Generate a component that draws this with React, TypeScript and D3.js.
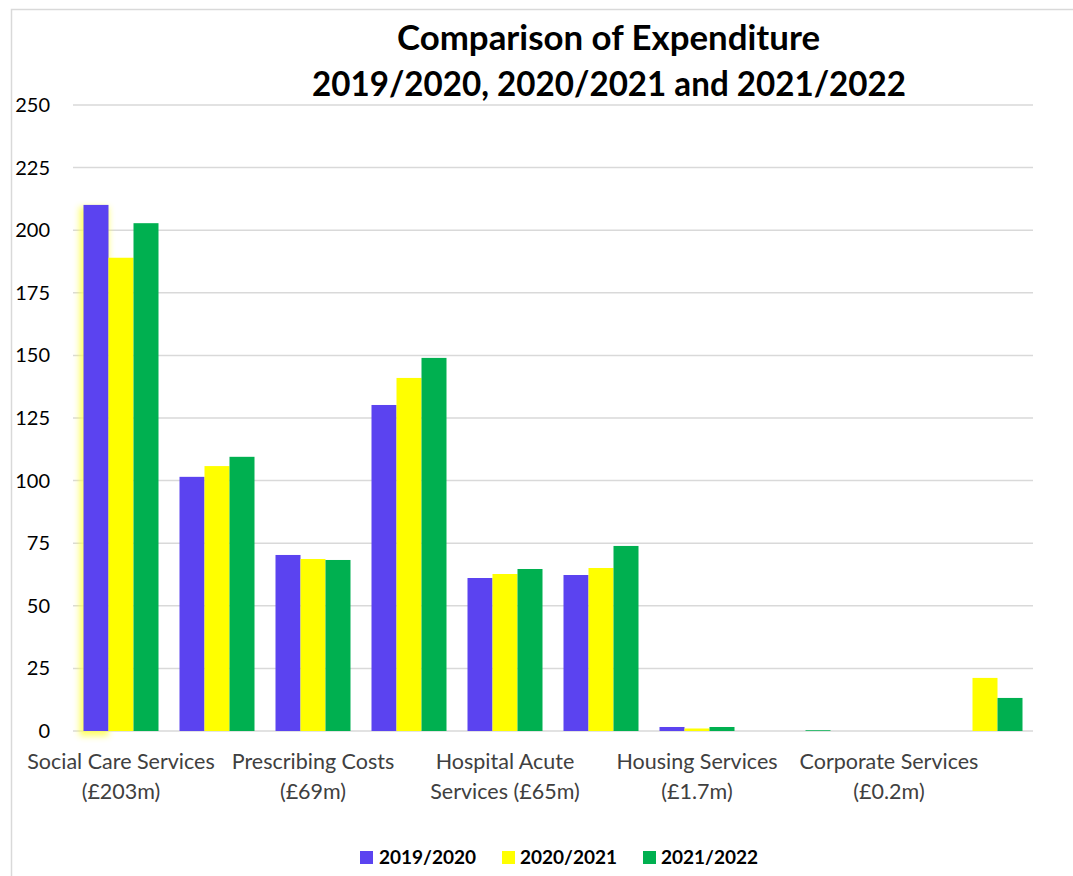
import React from "react";
import * as d3 from "d3";

const categories = [
  "Social Care Services (£203m)",
  "Category 2",
  "Prescribing Costs (£69m)",
  "Category 4",
  "Hospital Acute Services (£65m)",
  "Category 6",
  "Housing Services (£1.7m)",
  "Category 8",
  "Corporate Services (£0.2m)",
  "Category 10",
];
// Visible axis labels (every other category), split in two lines
const labelLines: string[][] = [
  ["Social Care Services", "(£203m)"],
  [],
  ["Prescribing Costs", "(£69m)"],
  [],
  ["Hospital Acute", "Services (£65m)"],
  [],
  ["Housing Services", "(£1.7m)"],
  [],
  ["Corporate Services", "(£0.2m)"],
  [],
];
const series = ["2019/2020", "2020/2021", "2021/2022"];
const values2019 = [210.1, 101.5, 70.3, 130.2, 61.1, 62.3, 1.6, 0, 0, 0];
const values2020 = [189.0, 105.8, 68.7, 141.0, 62.7, 65.1, 1.0, 0, 0, 21.2];
const values2021 = [202.8, 109.5, 68.3, 149.0, 64.7, 73.9, 1.6, 0.3, 0, 13.2];
const yTicks = [0, 25, 50, 75, 100, 125, 150, 175, 200, 225, 250];
const colors = ["#5B43F0", "#FFFF00", "#00B050"];

const W = 1073;
const H = 876;
const plot = { left: 73, right: 1033, top: 105, bottom: 731 };
const font = "Lato, 'Open Sans', sans-serif";

export default function App() {
  const allSeries = [values2019, values2020, values2021];
  const x = d3
    .scaleBand<string>()
    .domain(categories)
    .range([plot.left, plot.right])
    .paddingInner(0.21875)
    .paddingOuter(0.109375);
  const inner = d3
    .scaleBand<string>()
    .domain(series)
    .range([0, x.bandwidth()]);
  const y = d3.scaleLinear().domain([0, 250]).range([plot.bottom, plot.top]);

  const legendItems = [
    { name: series[0], sq: 360, tx: 379 },
    { name: series[1], sq: 502, tx: 520 },
    { name: series[2], sq: 643, tx: 661 },
  ];

  return (
    <svg
      width={W}
      height={H}
      style={{ position: "fixed", left: 0, top: 0, background: "#fff" }}
      fontFamily={font}
    >
      <defs>
        <filter id="glow" x="-50%" y="-10%" width="200%" height="120%">
          <feGaussianBlur stdDeviation="3" />
        </filter>
      </defs>
      {/* chart border */}
      <path d={`M11.5,${H} V9.5 H${W}`} fill="none" stroke="#d9d9d9" strokeWidth={1.5} />

      {/* title */}
      <text
        x={608.5}
        y={50}
        textAnchor="middle"
        fontSize={34}
        fontWeight={700}
        fill="#000"
        textLength={423}
        lengthAdjust="spacingAndGlyphs"
      >
        Comparison of Expenditure
      </text>
      <text
        x={609}
        y={96}
        textAnchor="middle"
        fontSize={34}
        fontWeight={700}
        fill="#000"
        textLength={594}
        lengthAdjust="spacingAndGlyphs"
      >
        2019/2020, 2020/2021 and 2021/2022
      </text>

      {/* gridlines */}
      {yTicks.map((t) => (
        <line
          key={t}
          x1={plot.left}
          x2={plot.right}
          y1={y(t)}
          y2={y(t)}
          stroke="#d9d9d9"
          strokeWidth={1.5}
        />
      ))}
      {/* y tick labels */}
      {yTicks.map((t) => (
        <text key={t} x={50} y={y(t) + 7} textAnchor="end" fontSize={20} fill="#000">
          {t}
        </text>
      ))}

      {/* yellow glow around first bar */}
      <rect
        x={(x(categories[0]) ?? 0) + inner(series[0])! - 4}
        y={y(values2019[0]) + 2}
        width={inner.bandwidth() + 4}
        height={plot.bottom - y(values2019[0]) + 3}
        fill="#ffff55"
        opacity={0.9}
        filter="url(#glow)"
      />

      {/* bars */}
      {categories.map((c, i) => (
        <g key={c}>
          {allSeries.map((vals, s) => {
            const v = vals[i];
            if (v <= 0) return null;
            return (
              <rect
                key={s}
                x={(x(c) ?? 0) + (inner(series[s]) ?? 0)}
                y={y(v)}
                width={inner.bandwidth()}
                height={y(0) - y(v)}
                fill={colors[s]}
              />
            );
          })}
        </g>
      ))}

      {/* x labels */}
      {categories.map((c, i) =>
        labelLines[i].length ? (
          <text
            key={c}
            x={(x(c) ?? 0) + x.bandwidth() / 2}
            textAnchor="middle"
            fontSize={21.5}
            fill="#404040"
          >
            {labelLines[i].map((ln, k) => (
              <tspan key={k} x={(x(c) ?? 0) + x.bandwidth() / 2} y={769 + k * 30}>
                {ln}
              </tspan>
            ))}
          </text>
        ) : null
      )}

      {/* legend */}
      {legendItems.map((it, i) => (
        <g key={it.name}>
          <rect x={it.sq} y={851} width={13} height={13} fill={colors[i]} />
          <text x={it.tx} y={864} fontSize={19} fontWeight={700} fill="#000">
            {it.name}
          </text>
        </g>
      ))}
    </svg>
  );
}
